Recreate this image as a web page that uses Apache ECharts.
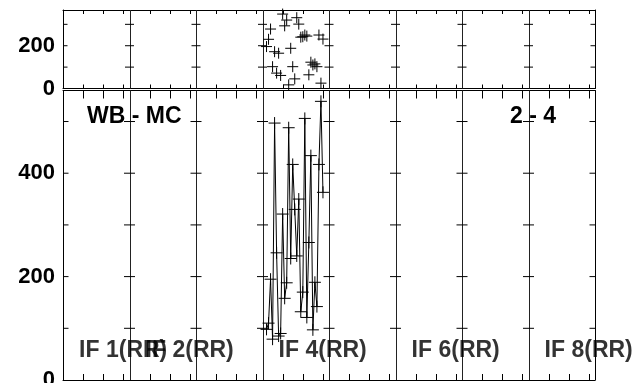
<!DOCTYPE html>
<html>
<head>
<meta charset="utf-8">
<script src="https://cdn.jsdelivr.net/npm/echarts@6/dist/echarts.min.js"></script>
<style>
html,body{margin:0;padding:0;background:#fff;overflow:hidden;}
#chart{width:636px;height:400px;}
</style>
</head>
<body>
<div id="chart"></div>
<script>
// ---- data ----
const channelsPerIF = 33;
const numIF = 8;
const ifLabels = ['IF 1(RR)', 'IF 2(RR)', 'IF 4(RR)', 'IF 6(RR)', 'IF 8(RR)'];
const ifLabelIndex = [0, 1, 3, 5, 7];
const channels = [101,102,103,104,105,106,107,108,109,110,111,112,113,114,115,116,117,118,119,120,121,122,123,124,125,126,127,128,129];
const phase = [196,230,278,102,172,72,165,61,348,293,320,17,188,102,45,331,301,240,242,250,245,64,123,110,115,102,250,25,231];
const amplitude = [98,110,195,79,497,246,85,90,321,158,188,488,235,417,330,240,350,132,170,506,121,266,434,97,189,142,417,539,363];
const phaseTicks = [100, 200, 300];
const ampTicks = [100, 200, 300, 400, 500];
const minorTickOffsets = [10, 20, 30];
const phaseMax = 367, ampMax = 560;
const titleLeft = 'WB - MC', titleRight = '2 - 4';

// ---- derived ----
const xMax = channelsPerIF * numIF;
const boundaries = [];
for (let i = 0; i <= numIF; i++) boundaries.push(i * channelsPerIF);
const minorTicks = [];
for (let i = 0; i < numIF; i++) minorTickOffsets.forEach(o => minorTicks.push(i * channelsPerIF + o));

const FONT = '"Liberation Sans", Arial, sans-serif';
const plusPath = 'path://M6 0L6 12M0 6L12 6';

function xAxisDef(grid, pos) {
  return {
    type: 'value', gridIndex: grid, position: pos, min: 0, max: xMax, interval: channelsPerIF,
    axisLine: {show: true, onZero: false, lineStyle: {color: '#000', width: 1}},
    axisTick: {show: false}, axisLabel: {show: false}, splitLine: {show: false}
  };
}
function yAxisDef(grid, pos, max, labels) {
  return {
    type: 'value', gridIndex: grid, position: pos, min: 0, max: max, interval: 200,
    axisLine: {show: true, onZero: false, lineStyle: {color: '#000', width: 1}},
    axisTick: {show: false},
    splitLine: {show: false},
    axisLabel: {
      show: labels, margin: 8, color: '#000', fontFamily: FONT, fontWeight: 'bold', fontSize: 22,
      verticalAlign: 'middle',
      formatter: v => (v % 200 === 0 ? String(v) : '')
    }
  };
}
// short horizontal ticks on every IF boundary line
function yTickSeries(xi, yi, vals, len) {
  const data = [];
  boundaries.forEach(b => vals.forEach(v => data.push([b, v])));
  return {
    type: 'custom', xAxisIndex: xi, yAxisIndex: yi, silent: true, z: 5,
    data: data,
    renderItem: function (params, api) {
      const p = api.coord([api.value(0), api.value(1)]);
      const cs = params.coordSys;
      const x1 = Math.max(p[0] - len, cs.x), x2 = Math.min(p[0] + len, cs.x + cs.width);
      return {type: 'line', shape: {x1: x1, y1: p[1], x2: x2, y2: p[1]}, style: {stroke: '#000', lineWidth: 1}};
    }
  };
}
// IF boundary lines
function boundarySeries(xi, yi) {
  return {
    type: 'custom', xAxisIndex: xi, yAxisIndex: yi, silent: true, z: 4,
    data: boundaries.slice(1, -1).map(b => [b, 0]),
    renderItem: function (params, api) {
      const p = api.coord([api.value(0), 0]);
      const cs = params.coordSys;
      const x = Math.round(p[0]) + 0.5;
      return {type: 'line', shape: {x1: x, y1: cs.y, x2: x, y2: cs.y + cs.height}, style: {stroke: '#222', lineWidth: 1}};
    }
  };
}
// minor channel ticks on top and bottom edges
function xTickSeries(xi, yi, lenTop, lenBottom) {
  return {
    type: 'custom', xAxisIndex: xi, yAxisIndex: yi, silent: true, z: 5,
    data: minorTicks.map(t => [t, 0]),
    renderItem: function (params, api) {
      const p = api.coord([api.value(0), 0]);
      const cs = params.coordSys;
      const x = Math.round(p[0]) + 0.5;
      return {type: 'group', children: [
        {type: 'line', shape: {x1: x, y1: cs.y, x2: x, y2: cs.y + lenTop}, style: {stroke: '#000', lineWidth: 1}},
        {type: 'line', shape: {x1: x, y1: cs.y + cs.height - lenBottom, x2: x, y2: cs.y + cs.height}, style: {stroke: '#000', lineWidth: 1}}
      ]};
    }
  };
}

const chart = echarts.init(document.getElementById('chart'), null, {renderer: 'canvas'});
chart.setOption({
  animation: false,
  backgroundColor: '#fff',
  grid: [
    {left: 63, top: 10, width: 532, height: 78.5},
    {left: 63, top: 90.5, width: 532, height: 289.5}
  ],
  xAxis: [
    xAxisDef(0, 'bottom'),
    xAxisDef(0, 'top'),
    xAxisDef(1, 'bottom'),
    xAxisDef(1, 'top')
  ],
  yAxis: [
    yAxisDef(0, 'left', phaseMax, true),
    yAxisDef(0, 'right', phaseMax, false),
    yAxisDef(1, 'left', ampMax, true),
    yAxisDef(1, 'right', ampMax, false)
  ],
  graphic: [
    {type: 'text', x: 87, y: 117, style: {text: titleLeft, fill: '#000', font: 'bold 23px ' + FONT, verticalAlign: 'middle'}},
    {type: 'text', x: 510, y: 117, style: {text: titleRight, fill: '#000', font: 'bold 23px ' + FONT, verticalAlign: 'middle'}}
  ],
  series: [
    boundarySeries(0, 0),
    boundarySeries(2, 2),
    xTickSeries(0, 0, 4, 4),
    xTickSeries(2, 2, 8, 6),
    yTickSeries(0, 0, phaseTicks, 4.5),
    yTickSeries(2, 2, ampTicks, 5.5),
    {
      type: 'scatter', xAxisIndex: 0, yAxisIndex: 0,
      data: channels.map((c, i) => [c, phase[i]]),
      symbol: plusPath, symbolSize: 11,
      itemStyle: {color: 'none', borderColor: '#000', borderWidth: 1, opacity: 1},
      z: 6
    },
    {
      type: 'line', xAxisIndex: 2, yAxisIndex: 2,
      data: channels.map((c, i) => [c, amplitude[i]]),
      showSymbol: true, symbol: plusPath, symbolSize: 12,
      lineStyle: {color: '#000', width: 1},
      itemStyle: {color: 'none', borderColor: '#000', borderWidth: 1},
      z: 6
    },
    {
      type: 'scatter', xAxisIndex: 2, yAxisIndex: 2, symbolSize: 0, silent: true, z: 7,
      data: ifLabels.map((t, i) => ({name: t, value: [ifLabelIndex[i] * channelsPerIF + 8, 56]})),
      label: {
        show: true, position: 'right', distance: 0, formatter: '{b}',
        color: '#000', fontFamily: FONT, fontWeight: 'bold', fontSize: 23
      }
    }
  ]
});
</script>
</body>
</html>
